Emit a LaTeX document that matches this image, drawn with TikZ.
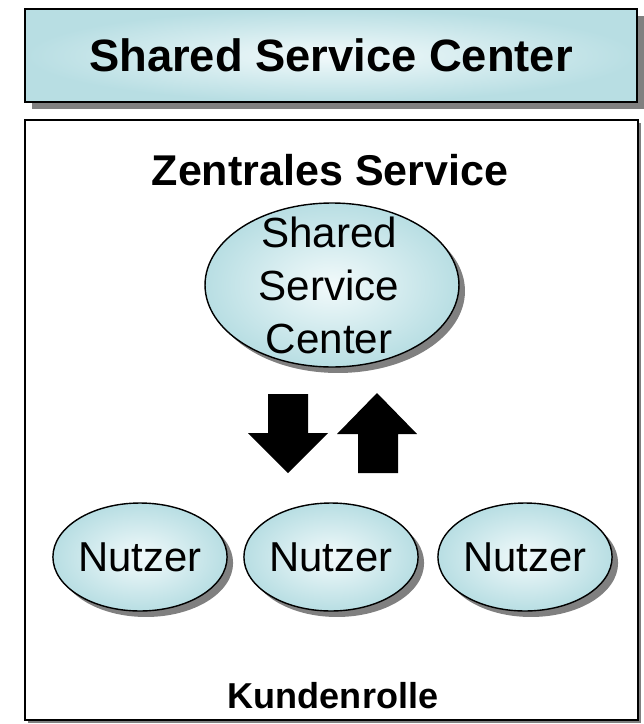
\documentclass[tikz,border=0pt]{standalone}
\usepackage{fontspec}
\setmainfont{Liberation Sans}
\usetikzlibrary{shapes.geometric, shadows, positioning}

\definecolor{bubbleteal}{RGB}{184,222,227}
\definecolor{bubblecore}{RGB}{242,250,251}

\tikzset{
	panel/.style={draw=black, line width=1.5pt},
	panelshadow/.style={drop shadow={shadow xshift=#1, shadow yshift=-#1, fill=black!50, opacity=1}},
	bubble/.style={ellipse, draw=black, line width=0.8pt, inner sep=0pt,
		shading=radial, outer color=bubbleteal, inner color=bubblecore,
		panelshadow=0.12cm},
	blockarrow/.style={fill=black},
}

\begin{document}
\begin{tikzpicture}[x=0.02cm, y=-0.02cm]
		\useasboundingbox (0,0) rectangle (643,724);

		% Title bar
		\node[panel, panelshadow=0.14cm, shading=radial, outer color=bubbleteal, inner color=bubblecore,
			minimum width=12.24cm, minimum height=1.86cm, inner sep=0pt,
			font=\fontsize{25.8}{30}\selectfont\bfseries] (title) at (331,55.5) {Shared Service Center};

		% Frame around the organisation
		\node[panel, panelshadow=0.06cm, fill=white, minimum width=12.26cm, minimum height=12cm,
			inner sep=0pt] (frame) at (331.5,420) {};
		\node[anchor=base, font=\fontsize{24.5}{28}\selectfont\bfseries] (zentral) at (330,185) {Zentrales Service};
		\node[anchor=base, font=\fontsize{20.5}{24}\selectfont\bfseries] (kunden) at (333,708) {Kundenrolle};

		% Central unit
		\node[bubble, minimum width=5.08cm, minimum height=3.28cm] (ssc) at (332,285) {};
		\node[align=center, font=\fontsize{24}{30.3}\selectfont] (ssc-text) at (329,285.5) {Shared\\Service\\Center};

		% Users
		\foreach \x/\n in {140/a, 331/b, 525/c}
			\node[bubble, minimum width=3.3cm, minimum height=2.16cm,
				font=\fontsize{23.8}{27}\selectfont] (nutzer-\n) at (\x,557) {Nutzer};

		% Exchange between centre and users
		\coordinate (down) at (288,394);
		\coordinate (up) at (377,393);
		\fill[blockarrow] (down) ++(-20,0) -- ++(40,0) -- ++(0,39) -- ++(20,0) -- ++(-40,40) -- ++(-40,-40) -- ++(20,0) -- cycle;
		\fill[blockarrow] (up) -- ++(40,41) -- ++(-19,0) -- ++(0,39) -- ++(-40,0) -- ++(0,-39) -- ++(-21,0) -- cycle;
	\end{tikzpicture}
\end{document}
